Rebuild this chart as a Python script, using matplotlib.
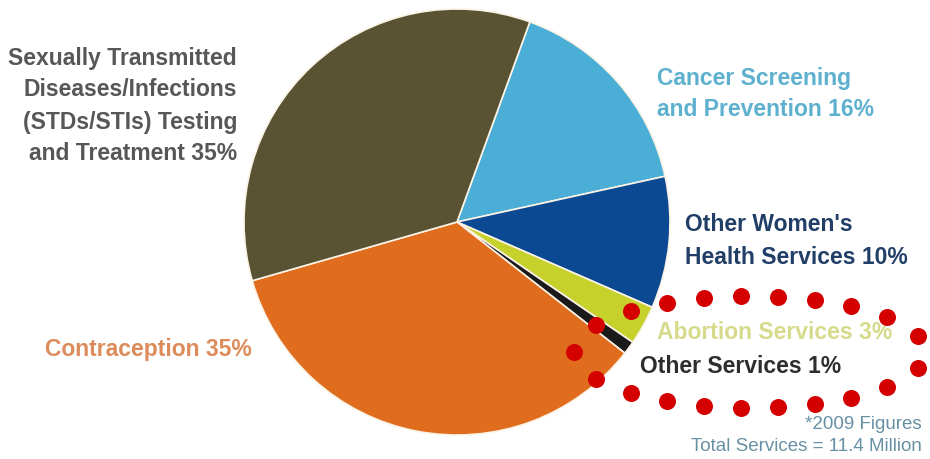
import numpy as np
import matplotlib.pyplot as plt

# share of services, 2009
labels = ['Cancer Screening\nand Prevention 16%',
          "Other Women's\nHealth Services 10%",
          'Abortion Services 3%',
          'Other Services 1%',
          'Contraception 35%',
          'Sexually Transmitted\nDiseases/Infections\n(STDs/STIs) Testing\nand Treatment 35%']
shares = [16, 10, 3, 1, 35, 35]
wedge_colors = ['#4aaed6', '#0b4a92', '#c6d12c', '#1a1a1a', '#e06c1e', '#595334']
text_colors = ['#5eb0cf', '#213e66', '#d6da8a', '#2e2e2e', '#dc8c5a', '#575757']
# label anchor (x, y from top), alignment
label_pos = [(657, 94, 'left'), (685, 241, 'left'), (657, 333, 'left'),
             (640, 367, 'left'), (45, 350, 'left'), (237, 106, 'right')]
footnote = ['*2009 Figures', 'Total Services = 11.4 Million']

W, H = 930, 460
fig = plt.figure(figsize=(9.3, 4.6), dpi=100)
ax = fig.add_axes([0, 0, 1, 1])

ax.pie(shares, colors=wedge_colors, startangle=70, counterclock=False,
       center=(457, H - 223), radius=213, frame=True,
       wedgeprops=dict(edgecolor='#fbf3e6', linewidth=1.2))
ax.set_xlim(0, W)
ax.set_ylim(0, H)
ax.set_aspect('equal')
ax.axis('off')

font = ['Liberation Sans', 'DejaVu Sans']
for lab, col, (x, y, ha) in zip(labels, text_colors, label_pos):
    ax.text(x, H - y, lab, ha=ha, va='center', multialignment=ha,
            color=col, fontsize=16.5, fontweight='bold', family=font,
            linespacing=1.5)

for i, line in enumerate(footnote):
    ax.text(922, H - 425 - 22 * i, line, ha='right', va='center',
            color='#6890a4', fontsize=13.5, family=font)

# red dotted loop around the two smallest slices
t = np.linspace(0, 2 * np.pi, 2000)
ex = 750 + 176 * np.cos(t)
ey = 353 + 56 * np.sin(t)
seg = np.hypot(np.diff(ex), np.diff(ey))
arc = np.concatenate([[0], np.cumsum(seg)])
n_dots = 21
step = arc[-1] / n_dots
targets = np.arange(n_dots) * step + step / 2
dx = np.interp(targets, arc, ex)
dy = np.interp(targets, arc, ey)
ax.scatter(dx, H - dy, s=150, color='#d40000', zorder=5, linewidths=0)

fig.savefig('out.png', dpi=100, facecolor='white')
